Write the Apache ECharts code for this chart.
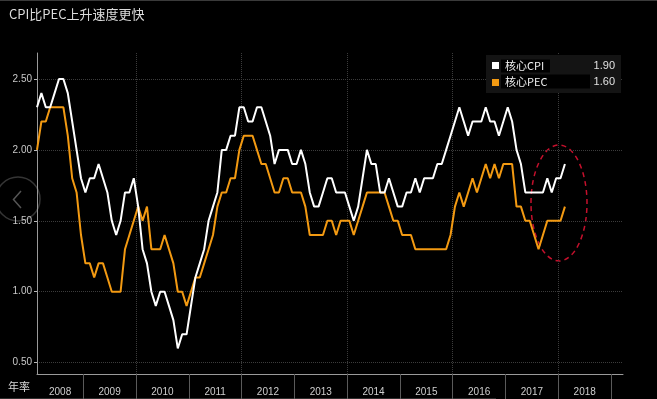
<!DOCTYPE html>
<html>
<head>
<meta charset="utf-8">
<title>CPI比PEC上升速度更快</title>
<script src="https://cdn.jsdelivr.net/npm/echarts@6/dist/echarts.min.js"></script>
<style>
  html, body { margin: 0; padding: 0; background: #000; }
  #chart { width: 657px; height: 399px; }
</style>
</head>
<body>
<div id="chart"></div>
<script>
// monthly data, first point = Feb 2008
const firstMonth = 2
const years = ['2008', '2009', '2010', '2011', '2012', '2013', '2014', '2015', '2016', '2017', '2018']
const yTicks = [0.5, 1.0, 1.5, 2.0, 2.5]

const coreCpi = [
  2.3, 2.4, 2.3, 2.3, 2.4, 2.5, 2.5, 2.4, 2.2, 2.0, 1.8, // 2008
  1.7, 1.8, 1.8, 1.9, 1.8, 1.7, 1.5, 1.4, 1.5, 1.7, 1.7, 1.8, // 2009
  1.6, 1.3, 1.2, 1.0, 0.9, 1.0, 1.0, 0.9, 0.8, 0.6, 0.7, 0.7, // 2010
  0.9, 1.1, 1.2, 1.3, 1.5, 1.6, 1.7, 2.0, 2.0, 2.1, 2.1, 2.3, // 2011
  2.3, 2.2, 2.2, 2.3, 2.3, 2.2, 2.1, 1.9, 2.0, 2.0, 2.0, 1.9, // 2012
  1.9, 2.0, 1.9, 1.7, 1.6, 1.6, 1.7, 1.8, 1.8, 1.7, 1.7, 1.7, // 2013
  1.6, 1.5, 1.6, 1.8, 2.0, 1.9, 1.9, 1.7, 1.7, 1.8, 1.7, 1.6, // 2014
  1.6, 1.7, 1.7, 1.8, 1.7, 1.8, 1.8, 1.8, 1.9, 1.9, 2.0, 2.1, // 2015
  2.2, 2.3, 2.2, 2.1, 2.2, 2.2, 2.2, 2.3, 2.2, 2.2, 2.1, 2.2, // 2016
  2.3, 2.2, 2.0, 1.9, 1.7, 1.7, 1.7, 1.7, 1.7, 1.8, 1.7, 1.8, // 2017
  1.8, 1.9 // 2018
]

const corePce = [
  2.0, 2.2, 2.2, 2.3, 2.3, 2.3, 2.3, 2.1, 1.8, 1.7, 1.4, // 2008
  1.2, 1.2, 1.1, 1.2, 1.2, 1.1, 1.0, 1.0, 1.0, 1.3, 1.4, 1.5, // 2009
  1.6, 1.5, 1.6, 1.3, 1.3, 1.3, 1.4, 1.3, 1.2, 1.0, 1.0, 0.9, // 2010
  1.0, 1.1, 1.1, 1.2, 1.3, 1.4, 1.6, 1.7, 1.7, 1.8, 1.8, 2.0, // 2011
  2.1, 2.1, 2.1, 2.0, 1.9, 1.9, 1.8, 1.7, 1.7, 1.8, 1.8, 1.7, // 2012
  1.7, 1.7, 1.6, 1.4, 1.4, 1.4, 1.4, 1.5, 1.5, 1.4, 1.5, 1.5, // 2013
  1.5, 1.4, 1.5, 1.6, 1.7, 1.7, 1.7, 1.7, 1.7, 1.6, 1.5, 1.5, // 2014
  1.4, 1.4, 1.4, 1.3, 1.3, 1.3, 1.3, 1.3, 1.3, 1.3, 1.3, 1.4, // 2015
  1.6, 1.7, 1.6, 1.7, 1.8, 1.7, 1.8, 1.9, 1.8, 1.9, 1.8, 1.9, // 2016
  1.9, 1.9, 1.6, 1.6, 1.5, 1.5, 1.4, 1.3, 1.4, 1.5, 1.5, 1.5, // 2017
  1.5, 1.6 // 2018
]

const fontFamily = "'Liberation Sans', 'Noto Sans CJK SC', sans-serif"
const cjkFont = "'Noto Sans CJK SC', 'Liberation Sans', sans-serif"
const white = '#ffffff'
const orange = '#f39a12'

// year boundaries sit between Dec and Jan points
const yearTicks = []
for (let k = 1; k <= years.length; k++) {
  yearTicks.push(k * 12 - (firstMonth - 1) - 0.5)
}
const yearLabels = yearTicks.map((t, k) => k === 0 ? t / 2 : yearTicks[k - 1] + 6)
const gridTicks = yearTicks.filter((t, k) => (Number(years[0]) + k + 1) % 2 === 0)
const xMax = yearTicks[yearTicks.length - 1] + 2.7

const toPoints = arr => arr.map((v, i) => [i, v])

const chart = echarts.init(document.getElementById('chart'))

chart.setOption({
  backgroundColor: '#000',
  animation: false,
  title: {
    text: 'CPI比PEC上升速度更快',
    left: 9,
    top: 8,
    padding: 0,
    textStyle: { color: '#dcdcdc', fontSize: 13, fontWeight: 'normal', fontFamily: cjkFont }
  },
  grid: { left: 37, right: 34, top: 53, bottom: 25 },
  xAxis: [{
    type: 'value',
    min: 0,
    max: xMax,
    axisLine: { show: true, lineStyle: { color: '#9a9a9a', width: 1 } },
    axisTick: {
      show: true,
      customValues: yearTicks,
      length: 25,
      lineStyle: { color: '#5a5a5a' }
    },
    axisLabel: {
      customValues: yearLabels,
      color: '#cfcfcf',
      fontSize: 10,
      fontFamily: fontFamily,
      margin: 13,
      formatter: function (v) {
        const k = yearLabels.findIndex(p => Math.abs(p - v) < 0.01)
        return k >= 0 ? years[k] : ''
      }
    },
    splitLine: { show: false }
  }, {
    type: 'value',
    min: 0,
    max: xMax,
    position: 'bottom',
    axisLine: { show: false },
    axisLabel: { show: false },
    axisTick: { show: false, customValues: gridTicks },
    splitLine: { show: true, lineStyle: { color: '#3c3c3c', type: 'dotted', width: 1 } }
  }],
  yAxis: {
    type: 'value',
    min: 0.42,
    max: 2.683,
    axisLine: { show: true, lineStyle: { color: '#9a9a9a', width: 1 } },
    axisTick: { show: true, customValues: yTicks, length: 3, lineStyle: { color: '#bbbbbb' } },
    axisLabel: {
      customValues: yTicks,
      color: '#c8c8c8',
      fontSize: 10,
      fontFamily: fontFamily,
      margin: 5,
      formatter: v => v.toFixed(2)
    },
    splitLine: { show: true, lineStyle: { color: '#3c3c3c', type: 'dotted', width: 1 } }
  },
  series: [{
    name: '核心PEC',
    type: 'line',
    data: toPoints(corePce),
    symbol: 'none',
    lineStyle: { color: orange, width: 2 },
    itemStyle: { color: orange }
  }, {
    name: '核心CPI',
    type: 'line',
    data: toPoints(coreCpi),
    symbol: 'none',
    lineStyle: { color: white, width: 2 },
    itemStyle: { color: white }
  }],
  graphic: [
    // frame lines
    { type: 'rect', shape: { x: 0, y: 0, width: 657, height: 1 }, style: { fill: '#3a3a3a' }, silent: true },
    { type: 'rect', shape: { x: 0, y: 398, width: 496, height: 1 }, style: { fill: '#2e2e2e' }, silent: true },
    // y unit
    {
      type: 'text', left: 8, top: 381,
      style: { text: '年率', fill: '#d8d8d8', fontSize: 11, fontFamily: cjkFont }
    },
    // back button
    {
      type: 'circle', shape: { cx: 18, cy: 199, r: 22 },
      style: { fill: 'none', stroke: '#353535', lineWidth: 1.5 }, silent: true
    },
    {
      type: 'polyline', shape: { points: [[21, 191], [13.5, 199.5], [21, 208]] },
      style: { fill: 'none', stroke: '#555555', lineWidth: 1.5 }, silent: true
    },
    // legend box
    { type: 'rect', z: 100, shape: { x: 486, y: 55, width: 135, height: 38 }, style: { fill: '#141414' } },
    { type: 'rect', z: 101, shape: { x: 492, y: 62, width: 7, height: 7 }, style: { fill: white } },
    { type: 'rect', z: 101, shape: { x: 501, y: 59.5, width: 49, height: 13 }, style: { fill: '#000' } },
    {
      type: 'text', z: 102, x: 505, y: 66,
      style: { text: '核心CPI', fill: '#f0f0f0', fontSize: 11, fontFamily: cjkFont, verticalAlign: 'middle' }
    },
    {
      type: 'text', z: 102, x: 615, y: 66,
      style: { text: coreCpi[coreCpi.length - 1].toFixed(2), fill: '#e0e0e0', fontSize: 11, fontFamily: fontFamily, align: 'right', verticalAlign: 'middle' }
    },
    { type: 'rect', z: 101, shape: { x: 492, y: 79, width: 7, height: 7 }, style: { fill: orange } },
    { type: 'rect', z: 101, shape: { x: 501, y: 74.5, width: 89, height: 14 }, style: { fill: '#000' } },
    {
      type: 'text', z: 102, x: 505, y: 82,
      style: { text: '核心PEC', fill: '#f0f0f0', fontSize: 11, fontFamily: cjkFont, verticalAlign: 'middle' }
    },
    {
      type: 'text', z: 102, x: 615, y: 82,
      style: { text: corePce[corePce.length - 1].toFixed(2), fill: '#e0e0e0', fontSize: 11, fontFamily: fontFamily, align: 'right', verticalAlign: 'middle' }
    },
    // highlight ring
    {
      type: 'ellipse', shape: { cx: 559, cy: 203, rx: 28, ry: 58 },
      style: { fill: 'none', stroke: '#c4102c', lineWidth: 1.5, lineDash: [5, 4] }, silent: true
    }
  ]
})
</script>
</body>
</html>
